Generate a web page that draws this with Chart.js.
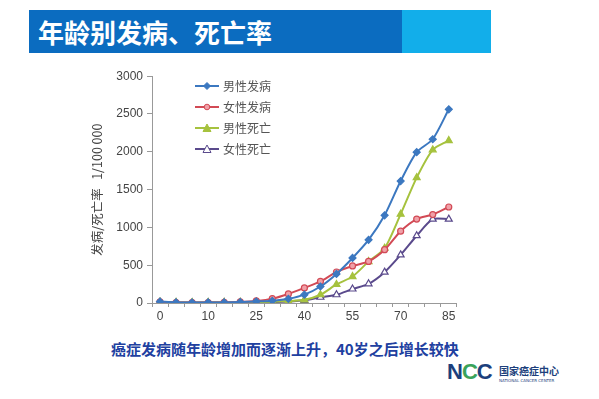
<!DOCTYPE html>
<html>
<head>
<meta charset="utf-8">
<script src="https://cdn.jsdelivr.net/npm/chart.js@4.4.1/dist/chart.umd.min.js"></script>
<style>
  body { margin: 0; width: 599px; height: 399px; background: #fff; overflow: hidden; position: relative; font-family: "Noto Sans CJK SC", sans-serif; }
  #banner { position: absolute; left: 29px; top: 10px; width: 462px; height: 43px; background: linear-gradient(to right, #0b6cc0 0, #0b6cc0 373px, #12aeea 373px); }
  #banner span { position: absolute; left: 9px; top: 3px; color: #fff; font-weight: bold; font-size: 26px; letter-spacing: 0px; }
  #wrap { position: absolute; left: 80px; top: 65px; width: 382px; height: 260px; }
  #legend { position: absolute; left: 195px; top: 75px; font-size: 12px; color: #555; }
  #legend div { height: 21px; display: flex; align-items: center; }
  #legend svg { margin-right: 4px; }
  #note { position: absolute; left: 111px; top: 338px; font-size: 15px; font-weight: bold; color: #2140a0; white-space: nowrap; }
  #logo { position: absolute; left: 447px; top: 362px; }
  #logo .ncc { position: absolute; left: 0; top: -3px; font-family: "Liberation Sans", sans-serif; font-weight: bold; font-size: 22px; color: #1c3f7c; letter-spacing: -1px; }
  #logo .ncc b { color: #3aa35a; }
  #logo .cn { position: absolute; left: 52px; top: 1px; font-size: 10px; font-weight: bold; color: #1c3f7c; white-space: nowrap; }
  #logo .en { position: absolute; left: 52px; top: 16px; font-size: 4px; color: #1c3f7c; white-space: nowrap; font-family: "DejaVu Sans", sans-serif; }
</style>
</head>
<body>
<div id="banner"><span>年龄别发病、死亡率</span></div>
<div id="wrap"><canvas id="chart"></canvas></div>
<div id="legend"></div>
<div id="note">癌症发病随年龄增加而逐渐上升，40岁之后增长较快</div>
<div id="logo"><span class="ncc">N<b>C</b>C</span><span class="cn">国家癌症中心</span><span class="en">NATIONAL CANCER CENTER</span></div>
<script>
const edades = ['0', '1', '5', '10', '15', '20', '25', '30', '35', '40', '45', '50', '55', '60', '65', '70', '75', '80', '85'];
const nombres = ['男性发病', '女性发病', '男性死亡', '女性死亡'];
const hombreIncidencia = [18, 8, 6, 7, 8, 12, 20, 30, 55, 110, 218, 385, 596, 835, 1160, 1613, 1995, 2166, 2562];
const mujerIncidencia = [15, 6, 5, 6, 8, 14, 28, 58, 120, 200, 285, 410, 490, 550, 705, 950, 1110, 1170, 1270];
const hombreMuerte = [14, 6, 5, 6, 7, 9, 12, 16, 25, 42, 109, 245, 350, 548, 724, 1175, 1658, 2026, 2149];
const mujerMuerte = [12, 5, 4, 5, 6, 7, 9, 12, 20, 36, 76, 109, 185, 254, 408, 636, 890, 1109, 1109];
const yTicks = [0, 500, 1000, 1500, 2000, 2500, 3000];

const estilos = [
    { color: '#3c78c0', punto: 'rectRot', fondo: '#3c78c0', radio: 3.5 },
    { color: '#d24a55', punto: 'circle', fondo: '#f0a0a8', radio: 3 },
    { color: '#a6c23e', punto: 'triangle', fondo: '#a6c23e', radio: 4 },
    { color: '#5a4a8c', punto: 'triangle', fondo: '#ffffff', radio: 4 }
];
const series = [hombreIncidencia, mujerIncidencia, hombreMuerte, mujerMuerte];

const datasets = series.map((data, i) => ({
    label: nombres[i],
    data: data,
    borderColor: estilos[i].color,
    backgroundColor: estilos[i].fondo,
    pointStyle: estilos[i].punto,
    pointRadius: estilos[i].radio,
    pointBorderColor: estilos[i].color,
    pointBackgroundColor: estilos[i].fondo,
    pointBorderWidth: 1.2,
    borderWidth: 2,
    tension: 0.25,
    fill: false
}));

const ctx = document.getElementById('chart').getContext('2d');
const chart = new Chart(ctx, {
    type: 'line',
    data: { labels: edades, datasets: datasets },
    options: {
        responsive: true,
        maintainAspectRatio: false,
        animation: false,
        layout: { padding: { top: 10, right: 0, left: 0, bottom: 0 } },
        plugins: { legend: { display: false }, tooltip: { enabled: false } },
        scales: {
            x: {
                type: 'category',
                offset: true,
                border: { color: '#999', width: 1 },
                grid: { offset: true, drawOnChartArea: false, drawTicks: true, tickLength: 4, color: '#999' },
                ticks: {
                    autoSkip: false, maxRotation: 0, padding: 2,
                    color: '#444', font: { family: 'Liberation Sans', size: 12 },
                    callback: (v, i) => i % 3 === 0 ? edades[i] : ''
                },
                afterFit: s => { s.height = 22; }
            },
            y: {
                min: 0, max: 3000,
                border: { color: '#999', width: 1 },
                grid: { drawOnChartArea: false, drawTicks: true, tickLength: 5, color: '#999' },
                afterBuildTicks: s => { s.ticks = yTicks.map(v => ({ value: v })); },
                ticks: { color: '#444', padding: 4, font: { family: 'Liberation Sans', size: 12 }, callback: v => String(v) },
                title: {
                    display: true,
                    text: '发病/死亡率   1/100 000',
                    color: '#444',
                    font: { family: 'Noto Sans CJK SC', size: 12.5 },
                    padding: { top: 10, bottom: 0 }
                },
                afterFit: s => { s.width = 72; }
            }
        }
    }
});

// leyenda en HTML
const leyenda = document.getElementById('legend');
estilos.forEach((e, i) => {
    let marca;
    if (e.punto === 'rectRot') marca = `<polygon points="12,1.5 15.5,5 12,8.5 8.5,5" fill="${e.fondo}" stroke="${e.color}"/>`;
    else if (e.punto === 'circle') marca = `<circle cx="12" cy="5" r="2.8" fill="${e.fondo}" stroke="${e.color}"/>`;
    else marca = `<polygon points="12,1 16,8.5 8,8.5" fill="${e.fondo}" stroke="${e.color}"/>`;
    const fila = document.createElement('div');
    fila.innerHTML = `<svg width="24" height="10"><line x1="0" y1="5" x2="24" y2="5" stroke="${e.color}" stroke-width="2"/>${marca}</svg>${nombres[i]}`;
    leyenda.appendChild(fila);
});
</script>
</body>
</html>
